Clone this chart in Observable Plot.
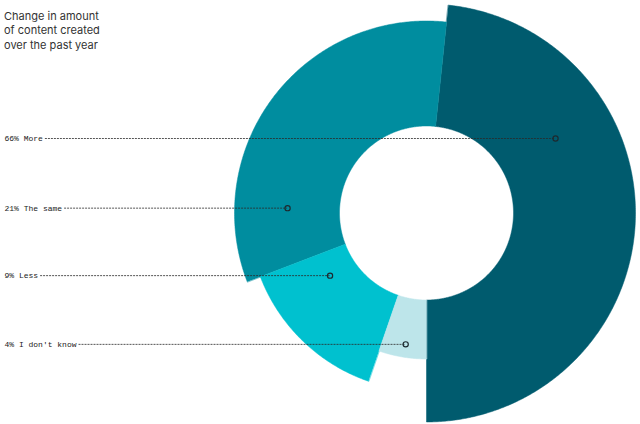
<!DOCTYPE html>
<html>
<head>
<meta charset="utf-8">
<script src="https://cdn.jsdelivr.net/npm/d3@7"></script>
<script src="https://cdn.jsdelivr.net/npm/@observablehq/plot@0.6"></script>
<style>
  html, body { margin: 0; padding: 0; background: #fff; }
  #wrap { position: relative; width: 640px; height: 424px; }
  #title { position: absolute; left: 4px; top: 9px; font-family: Inter, sans-serif; font-size: 11px; line-height: 14.3px; color: #333; }
  svg { display: block; }
</style>
</head>
<body>
<div id="wrap">
  <div id="chart"></div>
  <div id="title">Change in amount<br>of content created<br>over the past year</div>
</div>
<script>
// Data
const categories = ["66% More", "21% The same", "9% Less", "4% I don't know"];
const values = [66, 21, 9, 4];
const colors = ["#005b6e", "#008d9f", "#00c1cf", "#bde5ea"];
// angular sweep of each wedge (degrees) and outer radius, as drawn
const sweepDeg = [174, 117, 50, 19];
const outerR = [209, 192, 178, 146];
const innerR = 87;
const startDeg = 6;                 // clockwise from 12 o'clock
const clockwiseOrder = [0, 3, 2, 1]; // More, I don't know, Less, The same
// label anchor points (polar: degrees clockwise from top, radius)
const anchorAngle = [60, 272, 237, 189];
const anchorR = [149, 139, 115, 133];

const rad = d => d * Math.PI / 180;
const polar = (deg, r) => ({ x: r * Math.sin(rad(deg)), y: r * Math.cos(rad(deg)) });

// build wedge polygons
const wedges = [];
let a = startDeg;
for (const i of clockwiseOrder) {
  const a0 = a, a1 = a + sweepDeg[i];
  const n = Math.max(2, Math.ceil(sweepDeg[i] * 2));
  const pts = [];
  for (let k = 0; k <= n; k++) pts.push(polar(a0 + (a1 - a0) * k / n, outerR[i]));
  for (let k = n; k >= 0; k--) pts.push(polar(a0 + (a1 - a0) * k / n, innerR));
  wedges[i] = pts;
  a = a1;
}

const xLeft = -426;          // left edge of the frame (1 unit = 1 px)
const fontSize = 8;
const charW = fontSize * 0.6; // monospace advance
const rows = categories.map((label, i) => {
  const p = polar(anchorAngle[i], anchorR[i]);
  return { label, value: values[i], ax: p.x, ay: p.y, x1: xLeft + 4 + label.length * charW + 2.5 };
});

const chart = Plot.plot({
  width: 640,
  height: 424,
  margin: 0,
  x: { domain: [xLeft, 214], axis: null },
  y: { domain: [-211.5, 212.5], axis: null },
  marks: [
    ...wedges.map((pts, i) => Plot.line(pts, {
      x: "x", y: "y", fill: colors[i], stroke: colors[i], strokeWidth: 0.5, curve: "linear-closed"
    })),
    Plot.ruleY(rows, {
      y: "ay", x1: "x1", x2: "ax", stroke: "#2a2a2a", strokeWidth: 0.8, strokeDasharray: "2,1"
    }),
    Plot.dot(rows, {
      x: "ax", y: "ay", r: 2.6, stroke: "#1c2a30", strokeWidth: 1.2, fill: "none"
    }),
    Plot.text(rows, {
      x: xLeft, y: "ay", text: "label", dx: 4, textAnchor: "start",
      fontFamily: "'Liberation Mono', 'DejaVu Sans Mono', monospace", fontSize,
      fill: "#222"
    })
  ]
});
document.getElementById("chart").appendChild(chart);
</script>
</body>
</html>
